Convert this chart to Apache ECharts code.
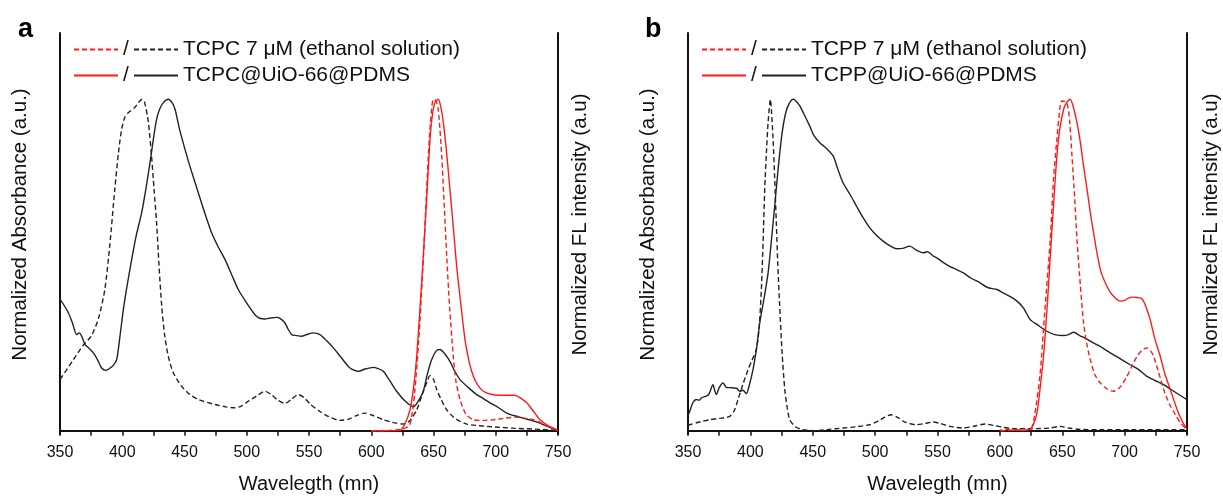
<!DOCTYPE html>
<html lang="en">

<head>
    <meta charset="UTF-8">
    <title>Absorbance / FL spectra</title>
    <script src="https://cdn.jsdelivr.net/npm/echarts@6/dist/echarts.min.js"></script>
    <style>
        html,
        body {
            margin: 0;
            padding: 0;
            background: #fff;
        }

        #main {
            width: 1223px;
            height: 497px;
        }
    </style>
</head>

<body>
    <div id="main"></div>
    <script type="text/javascript">
        // axis ticks (nm)
        var xTicks = [350, 400, 450, 500, 550, 600, 650, 700, 750];

        // legend texts
        var namesA = ['TCPC 7 \u03bcM (ethanol solution)', 'TCPC@UiO-66@PDMS'];
        var namesB = ['TCPP 7 \u03bcM (ethanol solution)', 'TCPP@UiO-66@PDMS'];

        // panel a : TCPC, [wavelength, normalized value]
        var tcpcEthAbs = [[350, 0.155], [351.4, 0.162], [360, 0.21], [368, 0.255], [375, 0.285], [381, 0.34], [386, 0.426], [390, 0.56], [394, 0.728], [397, 0.84], [399.5, 0.909], [402, 0.945], [405, 0.96], [410, 0.975], [413, 0.99], [416, 1.0], [418, 0.99], [421, 0.93], [423.5, 0.83], [425.5, 0.73], [427.6, 0.627], [429.5, 0.5], [431.7, 0.376], [434, 0.29], [437, 0.224], [441, 0.175], [447.7, 0.134], [454, 0.11], [461, 0.094], [474.5, 0.079], [483, 0.072], [490.6, 0.069], [496, 0.075], [501.3, 0.089], [508, 0.105], [514.7, 0.119], [520, 0.108], [525, 0.092], [530.7, 0.082], [536, 0.095], [541.4, 0.109], [546, 0.1], [551, 0.08], [558.8, 0.058], [566, 0.042], [574.9, 0.031], [582, 0.035], [589, 0.047], [595, 0.053], [602, 0.045], [609.7, 0.033], [617, 0.025], [625.7, 0.02], [631, 0.03], [636.5, 0.063], [641, 0.11], [645, 0.15], [647.2, 0.166], [650, 0.155], [652.6, 0.124], [656, 0.095], [660.6, 0.063], [667, 0.038], [676.7, 0.02], [690, 0.014], [703.4, 0.01], [716, 0.007], [730.2, 0.005], [740, 0.003], [750, 0.001]];
        var tcpcMofAbs = [[350, 0.396], [353, 0.38], [356.7, 0.356], [360, 0.325], [363.4, 0.29], [365.5, 0.295], [367.4, 0.285], [370.1, 0.26], [373, 0.25], [376.8, 0.235], [380, 0.215], [383.5, 0.189], [387, 0.182], [390.2, 0.189], [393, 0.198], [395.5, 0.214], [398, 0.28], [400.9, 0.366], [404, 0.44], [407.6, 0.517], [411, 0.585], [415.6, 0.658], [419, 0.73], [422.3, 0.809], [425, 0.88], [427.6, 0.94], [430, 0.97], [433, 0.99], [437, 1.0], [440, 0.99], [442.4, 0.97], [446, 0.91], [450.4, 0.849], [455, 0.79], [461.1, 0.718], [466, 0.66], [471.8, 0.597], [477, 0.555], [482.5, 0.517], [488, 0.47], [493.2, 0.426], [500, 0.385], [506.6, 0.35], [510, 0.34], [514.7, 0.337], [519, 0.34], [524, 0.342], [527, 0.338], [530.7, 0.325], [533, 0.308], [536.1, 0.29], [540, 0.287], [544.1, 0.285], [548, 0.29], [553.5, 0.295], [558.8, 0.29], [564, 0.272], [569.6, 0.25], [576, 0.22], [582.9, 0.189], [589.6, 0.179], [595, 0.186], [601.6, 0.191], [605, 0.188], [609.7, 0.179], [615, 0.15], [620.4, 0.119], [627, 0.09], [633.8, 0.072], [637, 0.085], [641.8, 0.119], [645, 0.17], [648.5, 0.214], [652, 0.24], [655.2, 0.245], [659, 0.232], [663.2, 0.209], [667, 0.18], [671.3, 0.154], [678, 0.13], [684.7, 0.109], [690, 0.097], [695.4, 0.084], [702, 0.07], [708.8, 0.053], [715, 0.045], [722.1, 0.038], [728, 0.032], [735.5, 0.023], [742, 0.012], [750, 0.001]];
        var tcpcEthFl = [[600, 0.0], [615, 0.001], [625, 0.005], [631, 0.018], [635, 0.12], [639, 0.325], [642, 0.53], [644.5, 0.728], [647, 0.9], [649.9, 1.0], [652, 0.995], [653.8, 0.97], [656.6, 0.83], [660.6, 0.527], [663, 0.37], [665.9, 0.224], [668, 0.15], [671.3, 0.094], [676, 0.05], [682, 0.033], [690, 0.031], [698, 0.033], [708, 0.038], [716.8, 0.041], [723, 0.038], [730.2, 0.033], [738, 0.02], [745, 0.008], [750, 0.001]];
        var tcpcMofFl = [[600, 0.0], [610, 0.0], [623, 0.001], [627, 0.02], [631.1, 0.063], [634, 0.13], [636.5, 0.224], [639, 0.36], [641.8, 0.527], [644.5, 0.7], [647.2, 0.88], [649, 0.95], [651.2, 0.99], [653.8, 1.0], [656, 0.975], [657.9, 0.93], [660.5, 0.84], [663.2, 0.728], [666, 0.61], [668.6, 0.496], [672, 0.38], [675.3, 0.275], [678.5, 0.21], [682, 0.164], [686, 0.135], [690, 0.119], [696, 0.11], [703.4, 0.107], [710, 0.107], [715.5, 0.107], [720, 0.098], [724.9, 0.084], [730, 0.06], [735.5, 0.033], [742, 0.015], [750, 0.001]];

        // panel b : TCPP
        var tcppEthAbs = [[350, 0.016], [351.3, 0.018], [360, 0.027], [367.4, 0.033], [375, 0.037], [383.4, 0.043], [387, 0.06], [390.1, 0.094], [394, 0.14], [398.1, 0.184], [401, 0.21], [404.8, 0.245], [407, 0.31], [408.8, 0.426], [410.2, 0.57], [411.5, 0.728], [413, 0.85], [414.2, 0.93], [416.1, 1.0], [417, 0.96], [418.2, 0.88], [419.5, 0.76], [420.8, 0.627], [422, 0.5], [423.5, 0.376], [425.5, 0.23], [427.6, 0.124], [429.5, 0.07], [431.6, 0.033], [436, 0.012], [442.2, 0.003], [452.9, 0.0], [463, 0.004], [474.3, 0.008], [485, 0.012], [495.7, 0.018], [503, 0.03], [508, 0.042], [513, 0.048], [518, 0.04], [524, 0.026], [533.1, 0.018], [540, 0.022], [546.5, 0.026], [552, 0.022], [560, 0.013], [570.8, 0.008], [580, 0.014], [588.2, 0.02], [595, 0.016], [603, 0.01], [611, 0.006], [625, 0.006], [640.4, 0.008], [648.4, 0.013], [655, 0.008], [664.4, 0.004], [680, 0.003], [704.5, 0.003], [730, 0.003], [750, 0.003]];
        var tcppMofAbs = [[350, 0.045], [351.3, 0.058], [354, 0.085], [356.7, 0.094], [359, 0.092], [361, 0.1], [364.7, 0.104], [367, 0.112], [370, 0.139], [371.5, 0.12], [372.7, 0.109], [375, 0.13], [378.1, 0.144], [381, 0.13], [384, 0.13], [386.1, 0.129], [389, 0.128], [391.5, 0.119], [394, 0.122], [396.8, 0.112], [399, 0.135], [402.1, 0.184], [405, 0.25], [407.5, 0.325], [411, 0.4], [414.2, 0.476], [417, 0.58], [419.5, 0.678], [422, 0.78], [424.8, 0.88], [427.5, 0.945], [430.2, 0.98], [434.2, 1.0], [436.5, 0.995], [439.6, 0.98], [443, 0.955], [447.6, 0.919], [451, 0.89], [455.6, 0.869], [460, 0.855], [466.3, 0.829], [470, 0.79], [474.3, 0.748], [480, 0.712], [485, 0.678], [490, 0.645], [495.7, 0.612], [501, 0.59], [506.4, 0.572], [511, 0.56], [517.1, 0.549], [522, 0.55], [527.8, 0.557], [533, 0.545], [538.5, 0.537], [542, 0.54], [546.5, 0.527], [550, 0.52], [554.8, 0.507], [560, 0.495], [565, 0.487], [570.8, 0.476], [577, 0.46], [584.2, 0.446], [590, 0.432], [597.6, 0.426], [603, 0.415], [608, 0.405], [613.7, 0.391], [619, 0.37], [624.3, 0.335], [630, 0.32], [637.7, 0.3], [644, 0.29], [651.1, 0.287], [655, 0.29], [659.1, 0.297], [664, 0.287], [668, 0.28], [672.5, 0.27], [680, 0.255], [688.5, 0.235], [696, 0.218], [704.5, 0.199], [711, 0.185], [717.9, 0.164], [724, 0.152], [731.3, 0.139], [737, 0.125], [743, 0.11], [750, 0.094]];
        var tcppEthFl = [[600, 0.0], [612, 0.001], [624.3, 0.003], [628, 0.05], [632.3, 0.174], [636, 0.36], [640.4, 0.577], [643, 0.76], [645.7, 0.88], [648, 0.97], [649.7, 0.995], [653.7, 0.99], [656, 0.93], [657.8, 0.829], [660, 0.7], [661.8, 0.577], [664.5, 0.44], [667.1, 0.325], [670, 0.255], [672.5, 0.214], [676, 0.17], [680.5, 0.144], [686, 0.126], [691.2, 0.119], [696, 0.13], [701.9, 0.164], [706, 0.196], [709.9, 0.224], [714, 0.243], [717.9, 0.25], [721, 0.24], [723.3, 0.224], [727, 0.18], [731.3, 0.124], [736, 0.08], [740.7, 0.048], [745, 0.022], [750, 0.003]];
        var tcppMofFl = [[600, 0.003], [603, 0.0], [606, 0.004], [610, 0.001], [614, 0.003], [618, 0.0], [622, 0.003], [624.3, 0.004], [627, 0.02], [629.7, 0.053], [632, 0.12], [635, 0.224], [638, 0.38], [640.4, 0.527], [643, 0.68], [645.7, 0.829], [648, 0.91], [651.1, 0.97], [653.5, 0.99], [656.4, 1.0], [659, 0.975], [661.8, 0.93], [664.5, 0.87], [667.1, 0.798], [670, 0.725], [672.5, 0.658], [675, 0.6], [677.8, 0.537], [681, 0.48], [685.8, 0.436], [690, 0.41], [696.5, 0.391], [700, 0.393], [703, 0.4], [707.2, 0.403], [710, 0.402], [713.9, 0.398], [717, 0.375], [720.5, 0.335], [724, 0.28], [728.6, 0.224], [732, 0.175], [736.6, 0.124], [742, 0.065], [746, 0.03], [750, 0.003]];

        var FONT = '"Liberation Sans", Arial, sans-serif';
        var RED = '#ff1a1a';
        var BLACK = '#222';
        var DASH = [5, 3];

        var myChart = echarts.init(document.getElementById('main'));

        // one panel = grid + x axis + left/right y axes
        function xAxisFor(i) {
            return {
                type: 'value', gridIndex: i, min: xTicks[0], max: xTicks[xTicks.length - 1], interval: 50,
                name: 'Wavelegth (mn)', nameLocation: 'middle', nameGap: 40,
                nameTextStyle: { fontSize: 20, color: '#111', fontFamily: FONT },
                axisLine: { lineStyle: { color: '#111', width: 2 } },
                axisTick: { length: 5, lineStyle: { color: '#111', width: 1.5 } },
                minorTick: { show: true, splitNumber: 2, length: 5, lineStyle: { color: '#111', width: 1.5 } },
                axisLabel: { fontSize: 16, color: '#111', margin: 11, fontFamily: FONT },
                splitLine: { show: false }
            };
        }

        function yAxisFor(i, pos, name, gap) {
            return {
                type: 'value', gridIndex: i, position: pos, min: -0.01, max: 1.2,
                name: name, nameLocation: 'middle', nameRotate: 90, nameGap: gap,
                nameTextStyle: { fontSize: 20.5, color: '#111', fontFamily: FONT, padding: [0, 0, 0, 18] },
                axisLine: { show: true, lineStyle: { color: '#111', width: 2 } },
                axisTick: { show: false },
                axisLabel: { show: false },
                splitLine: { show: false }
            };
        }

        function line(name, data, color, dashed, xi, yi) {
            return {
                name: name, type: 'line', data: data, xAxisIndex: xi, yAxisIndex: yi,
                symbol: 'none', smooth: 0.25, animation: false,
                lineStyle: { color: color, width: 1.4, type: dashed ? DASH : 'solid' },
                itemStyle: { color: color }
            };
        }

        function legendFor(left, names, slash) {
            return {
                orient: 'vertical', left: left, top: 34, itemWidth: 44, itemHeight: 14, itemGap: 5,
                selectedMode: false, data: names,
                itemStyle: { opacity: 0 },
                formatter: slash ? function() { return '/'; } : '{name}',
                textStyle: { fontSize: 21, color: '#111', fontFamily: FONT, padding: 0 }
            };
        }

        var option = {
            backgroundColor: '#fff',
            title: [
                { text: 'a', left: 13, top: 11, textStyle: { fontSize: 27, fontWeight: 'bold', color: '#000', fontFamily: FONT } },
                { text: 'b', left: 640, top: 11, textStyle: { fontSize: 27, fontWeight: 'bold', color: '#000', fontFamily: FONT } }
            ],
            grid: [
                { left: 60, top: 33, width: 498, height: 401, outerBoundsMode: 'none' },
                { left: 688, top: 33, width: 499, height: 401, outerBoundsMode: 'none' }
            ],
            xAxis: [xAxisFor(0), xAxisFor(1)],
            yAxis: [
                yAxisFor(0, 'left', 'Normalized Absorbance (a.u.)', 29),
                yAxisFor(0, 'right', 'Normalized FL intensity (a.u)', 12),
                yAxisFor(1, 'left', 'Normalized Absorbance (a.u.)', 29),
                yAxisFor(1, 'right', 'Normalized FL intensity (a.u)', 14)
            ],
            legend: [
                legendFor(68, ['a FL eth', 'a FL mof'], true),
                legendFor(128, namesA, false),
                legendFor(696, ['b FL eth', 'b FL mof'], true),
                legendFor(756, namesB, false)
            ],
            series: [
                line(namesA[0], tcpcEthAbs, BLACK, true, 0, 0),
                line(namesA[1], tcpcMofAbs, BLACK, false, 0, 0),
                line('a FL eth', tcpcEthFl, RED, true, 0, 1),
                line('a FL mof', tcpcMofFl, RED, false, 0, 1),
                line(namesB[0], tcppEthAbs, BLACK, true, 1, 2),
                line(namesB[1], tcppMofAbs, BLACK, false, 1, 2),
                line('b FL eth', tcppEthFl, RED, true, 1, 3),
                line('b FL mof', tcppMofFl, RED, false, 1, 3)
            ]
        };

        myChart.setOption(option);
    </script>

</body>

</html>
